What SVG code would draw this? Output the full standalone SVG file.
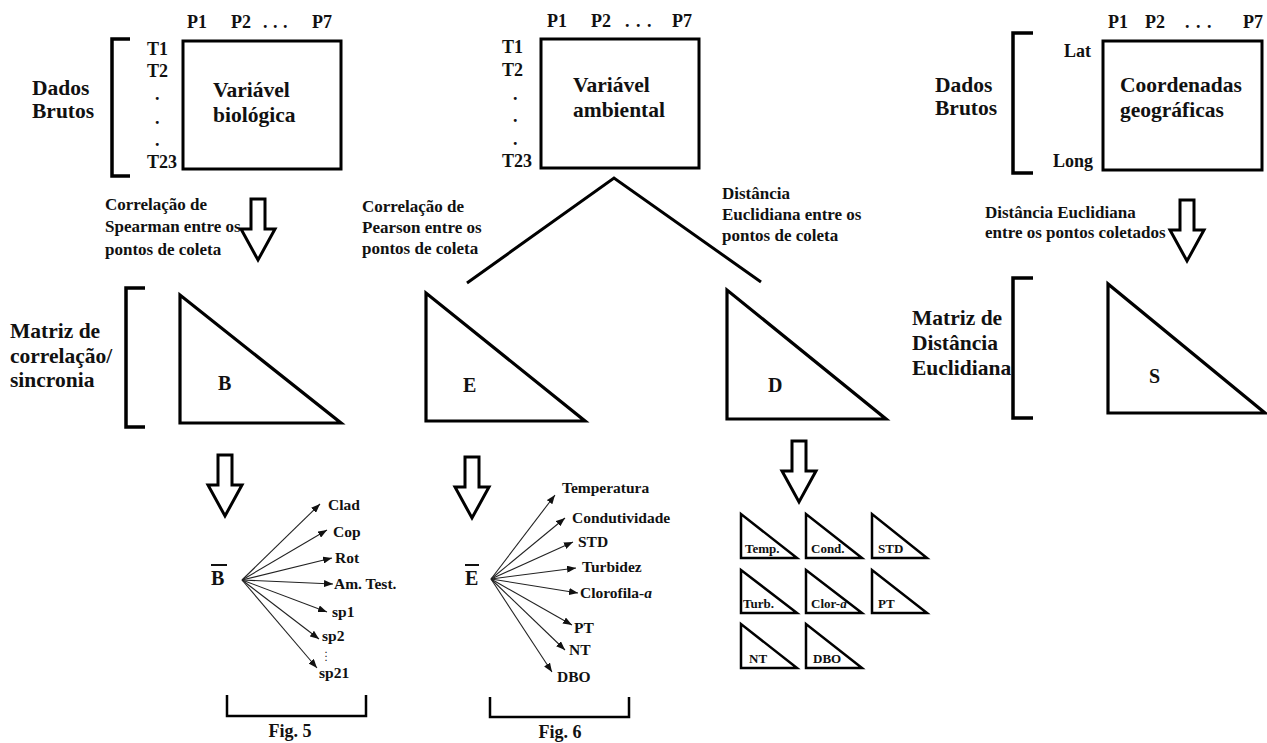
<svg xmlns="http://www.w3.org/2000/svg" width="1267" height="743" viewBox="0 0 1267 743">
<style>
text{font-family:"Liberation Serif","Times New Roman",serif;font-weight:bold;fill:#111}
.big{font-size:21.5px}
.mid{font-size:18px}
.sm{font-size:17px}
.fan{font-size:15.5px}
.tiny{font-size:13px}
.let{font-size:20px}
.box{fill:#fff;stroke:#000;stroke-width:3}
.tri{fill:#fff;stroke:#000;stroke-width:3.2;stroke-linejoin:miter}
.stri{fill:#fff;stroke:#000;stroke-width:2.5}
.brk{fill:none;stroke:#000;stroke-width:3.5}
.fbrk{fill:none;stroke:#000;stroke-width:2.5}
.ln{fill:none;stroke:#000;stroke-width:3}
.fl{stroke:#222;stroke-width:1.1;marker-end:url(#ah)}
.harr{fill:#fff;stroke:#000;stroke-width:3;stroke-linejoin:miter}
</style>
<defs>
<marker id="ah" markerWidth="9" markerHeight="7" refX="9" refY="3.5" orient="auto" markerUnits="userSpaceOnUse"><path d="M0,0 L9,3.5 L0,7 Z" fill="#111"/></marker>
<path id="hollow" d="M-7,0 H7 V30 H17 L0,61 L-17,30 H-7 Z"/>
</defs>
<rect width="1267" height="743" fill="#fff"/>

<g id="raw-bio">
<text class="big" x="32" y="95">Dados</text>
<text class="big" x="32" y="118">Brutos</text>
<path class="brk" d="M130,39 H112 V176 H130"/>
<text class="mid" x="187" y="28">P1</text>
<text class="mid" x="231" y="28">P2</text>
<text class="mid" x="263 273 283" y="28">...</text>
<text class="mid" x="312" y="28">P7</text>
<text class="mid" x="147" y="55">T1</text>
<text class="mid" x="147" y="77">T2</text>
<text class="mid" x="155 155 155" y="100 124 146">...</text>
<text class="mid" x="147" y="168">T23</text>
<rect class="box" x="183" y="41" width="158" height="128"/>
<text class="big" x="213" y="97">Variável</text>
<text class="big" x="213" y="122">biológica</text>
</g>

<g id="raw-env">
<text class="mid" x="547" y="27">P1</text>
<text class="mid" x="591" y="27">P2</text>
<text class="mid" x="625 636 647" y="27">...</text>
<text class="mid" x="672" y="27">P7</text>
<text class="mid" x="502" y="53">T1</text>
<text class="mid" x="502" y="76">T2</text>
<text class="mid" x="513 513 513" y="100 122 145">...</text>
<text class="mid" x="502" y="167">T23</text>
<rect class="box" x="541" y="39" width="158" height="129"/>
<text class="big" x="573" y="92">Variável</text>
<text class="big" x="573" y="117">ambiental</text>
</g>

<g id="raw-geo">
<text class="big" x="935" y="92">Dados</text>
<text class="big" x="935" y="115">Brutos</text>
<path class="brk" d="M1033,33 H1013 V173 H1033"/>
<text class="mid" x="1108" y="28">P1</text>
<text class="mid" x="1145" y="28">P2</text>
<text class="mid" x="1185 1196 1207" y="28">...</text>
<text class="mid" x="1243" y="28">P7</text>
<text class="mid" x="1064" y="57">Lat</text>
<text class="mid" x="1053" y="167">Long</text>
<rect class="box" x="1103" y="41" width="159" height="129"/>
<text class="big" x="1120" y="92">Coordenadas</text>
<text class="big" x="1120" y="117">geográficas</text>
</g>

<g id="labels-transform">
<text class="sm" x="105" y="210">Correlação de</text>
<text class="sm" x="105" y="232">Spearman entre os</text>
<text class="sm" x="105" y="255">pontos de coleta</text>
<text class="sm" x="362" y="212">Correlação de</text>
<text class="sm" x="362" y="233">Pearson entre os</text>
<text class="sm" x="362" y="254">pontos de coleta</text>
<text class="sm" x="722" y="199">Distância</text>
<text class="sm" x="722" y="220">Euclidiana entre os</text>
<text class="sm" x="722" y="241">pontos de coleta</text>
<text class="sm" x="985" y="218">Distância Euclidiana</text>
<text class="sm" x="985" y="238">entre os pontos coletados</text>
</g>

<g id="matrix-B">
<text class="big" x="10" y="338">Matriz de</text>
<text class="big" x="10" y="363">correlação/</text>
<text class="big" x="10" y="387">sincronia</text>
<path class="brk" d="M145,288 H126 V427 H145"/>
<path class="tri" d="M180,295 V423 H341 Z"/>
<text class="let" x="218" y="390">B</text>
</g>

<g id="matrix-E">
<path class="tri" d="M426,293 V421 H585 Z"/>
<text class="let" x="463" y="392">E</text>
</g>

<g id="matrix-D">
<path class="tri" d="M727,290 V419 H886 Z"/>
<text class="let" x="768" y="392">D</text>
</g>

<g id="matrix-S">
<text class="big" x="912" y="325">Matriz de</text>
<text class="big" x="912" y="350">Distância</text>
<text class="big" x="912" y="375">Euclidiana</text>
<path class="brk" d="M1033,278 H1013 V418 H1033"/>
<path class="tri" d="M1108,284 V413 H1265 Z"/>
<text class="let" x="1149" y="383">S</text>
</g>

<g id="fan-B">
<text class="let" x="211" y="585">B</text>
<line x1="211" y1="565" x2="227" y2="565" stroke="#111" stroke-width="2"/>
<text class="fan" x="328" y="510">Clad</text>
<text class="fan" x="333" y="537">Cop</text>
<text class="fan" x="335" y="563">Rot</text>
<text class="fan" x="334" y="589">Am. Test.</text>
<text class="fan" x="332" y="617">sp1</text>
<text class="fan" x="322" y="641">sp2</text>
<text x="325 325 325" y="653 657 661" style="font-size:8px">...</text>
<text class="fan" x="319" y="678">sp21</text>
<path class="fbrk" d="M227,695 V716 H366 V695"/>
<text class="mid" x="290" y="737" text-anchor="middle">Fig. 5</text>
</g>

<g id="fan-E">
<text class="let" x="465" y="585">E</text>
<line x1="465" y1="565" x2="479" y2="565" stroke="#111" stroke-width="2"/>
<text class="fan" x="562" y="493">Temperatura</text>
<text class="fan" x="572" y="523">Condutividade</text>
<text class="fan" x="578" y="547">STD</text>
<text class="fan" x="582" y="572">Turbidez</text>
<text class="fan" x="580" y="598">Clorofila-<tspan font-style="italic">a</tspan></text>
<text class="fan" x="574" y="633">PT</text>
<text class="fan" x="569" y="655">NT</text>
<text class="fan" x="557" y="682">DBO</text>
<path class="fbrk" d="M490,697 V717 H629 V697"/>
<text class="mid" x="560" y="738" text-anchor="middle">Fig. 6</text>
</g>

<g id="small-matrices">
<path class="stri" d="M741,514 V558 H797 Z"/>
<path class="stri" d="M806,514 V558 H862 Z"/>
<path class="stri" d="M872,514 V558 H927 Z"/>
<path class="stri" d="M741,570 V613 H797 Z"/>
<path class="stri" d="M806,570 V613 H862 Z"/>
<path class="stri" d="M872,570 V613 H927 Z"/>
<path class="stri" d="M741,624 V668 H797 Z"/>
<path class="stri" d="M806,624 V668 H862 Z"/>
<text class="tiny" x="745" y="553">Temp.</text>
<text class="tiny" x="811" y="553">Cond.</text>
<text class="tiny" x="878" y="553">STD</text>
<text class="tiny" x="743" y="608">Turb.</text>
<text class="tiny" x="811" y="608">Clor-<tspan font-style="italic">a</tspan></text>
<text class="tiny" x="878" y="608">PT</text>
<text class="tiny" x="749" y="663">NT</text>
<text class="tiny" x="813" y="663">DBO</text>
</g>

<g id="connectors">
<use href="#hollow" class="harr" transform="translate(258,199)"/>
<use href="#hollow" class="harr" transform="translate(1187,200)"/>
<use href="#hollow" class="harr" transform="translate(225,455)"/>
<use href="#hollow" class="harr" transform="translate(472,457)"/>
<use href="#hollow" class="harr" transform="translate(799,441)"/>
<path class="ln" d="M467,283 L614,178 L761,282"/>
<line class="fl" x1="242" y1="580" x2="320" y2="504"/>
<line class="fl" x1="242" y1="580" x2="327" y2="530"/>
<line class="fl" x1="242" y1="580" x2="332" y2="558"/>
<line class="fl" x1="242" y1="580" x2="333" y2="584"/>
<line class="fl" x1="242" y1="580" x2="327" y2="612"/>
<line class="fl" x1="242" y1="580" x2="319" y2="639"/>
<line class="fl" x1="242" y1="580" x2="317" y2="668"/>
<line class="fl" x1="491" y1="579" x2="555" y2="495"/>
<line class="fl" x1="491" y1="579" x2="565" y2="518"/>
<line class="fl" x1="491" y1="579" x2="573" y2="542"/>
<line class="fl" x1="491" y1="579" x2="576" y2="568"/>
<line class="fl" x1="491" y1="579" x2="578" y2="593"/>
<line class="fl" x1="491" y1="579" x2="572" y2="625"/>
<line class="fl" x1="491" y1="579" x2="565" y2="650"/>
<line class="fl" x1="491" y1="579" x2="552" y2="672"/>
</g>
</svg>
